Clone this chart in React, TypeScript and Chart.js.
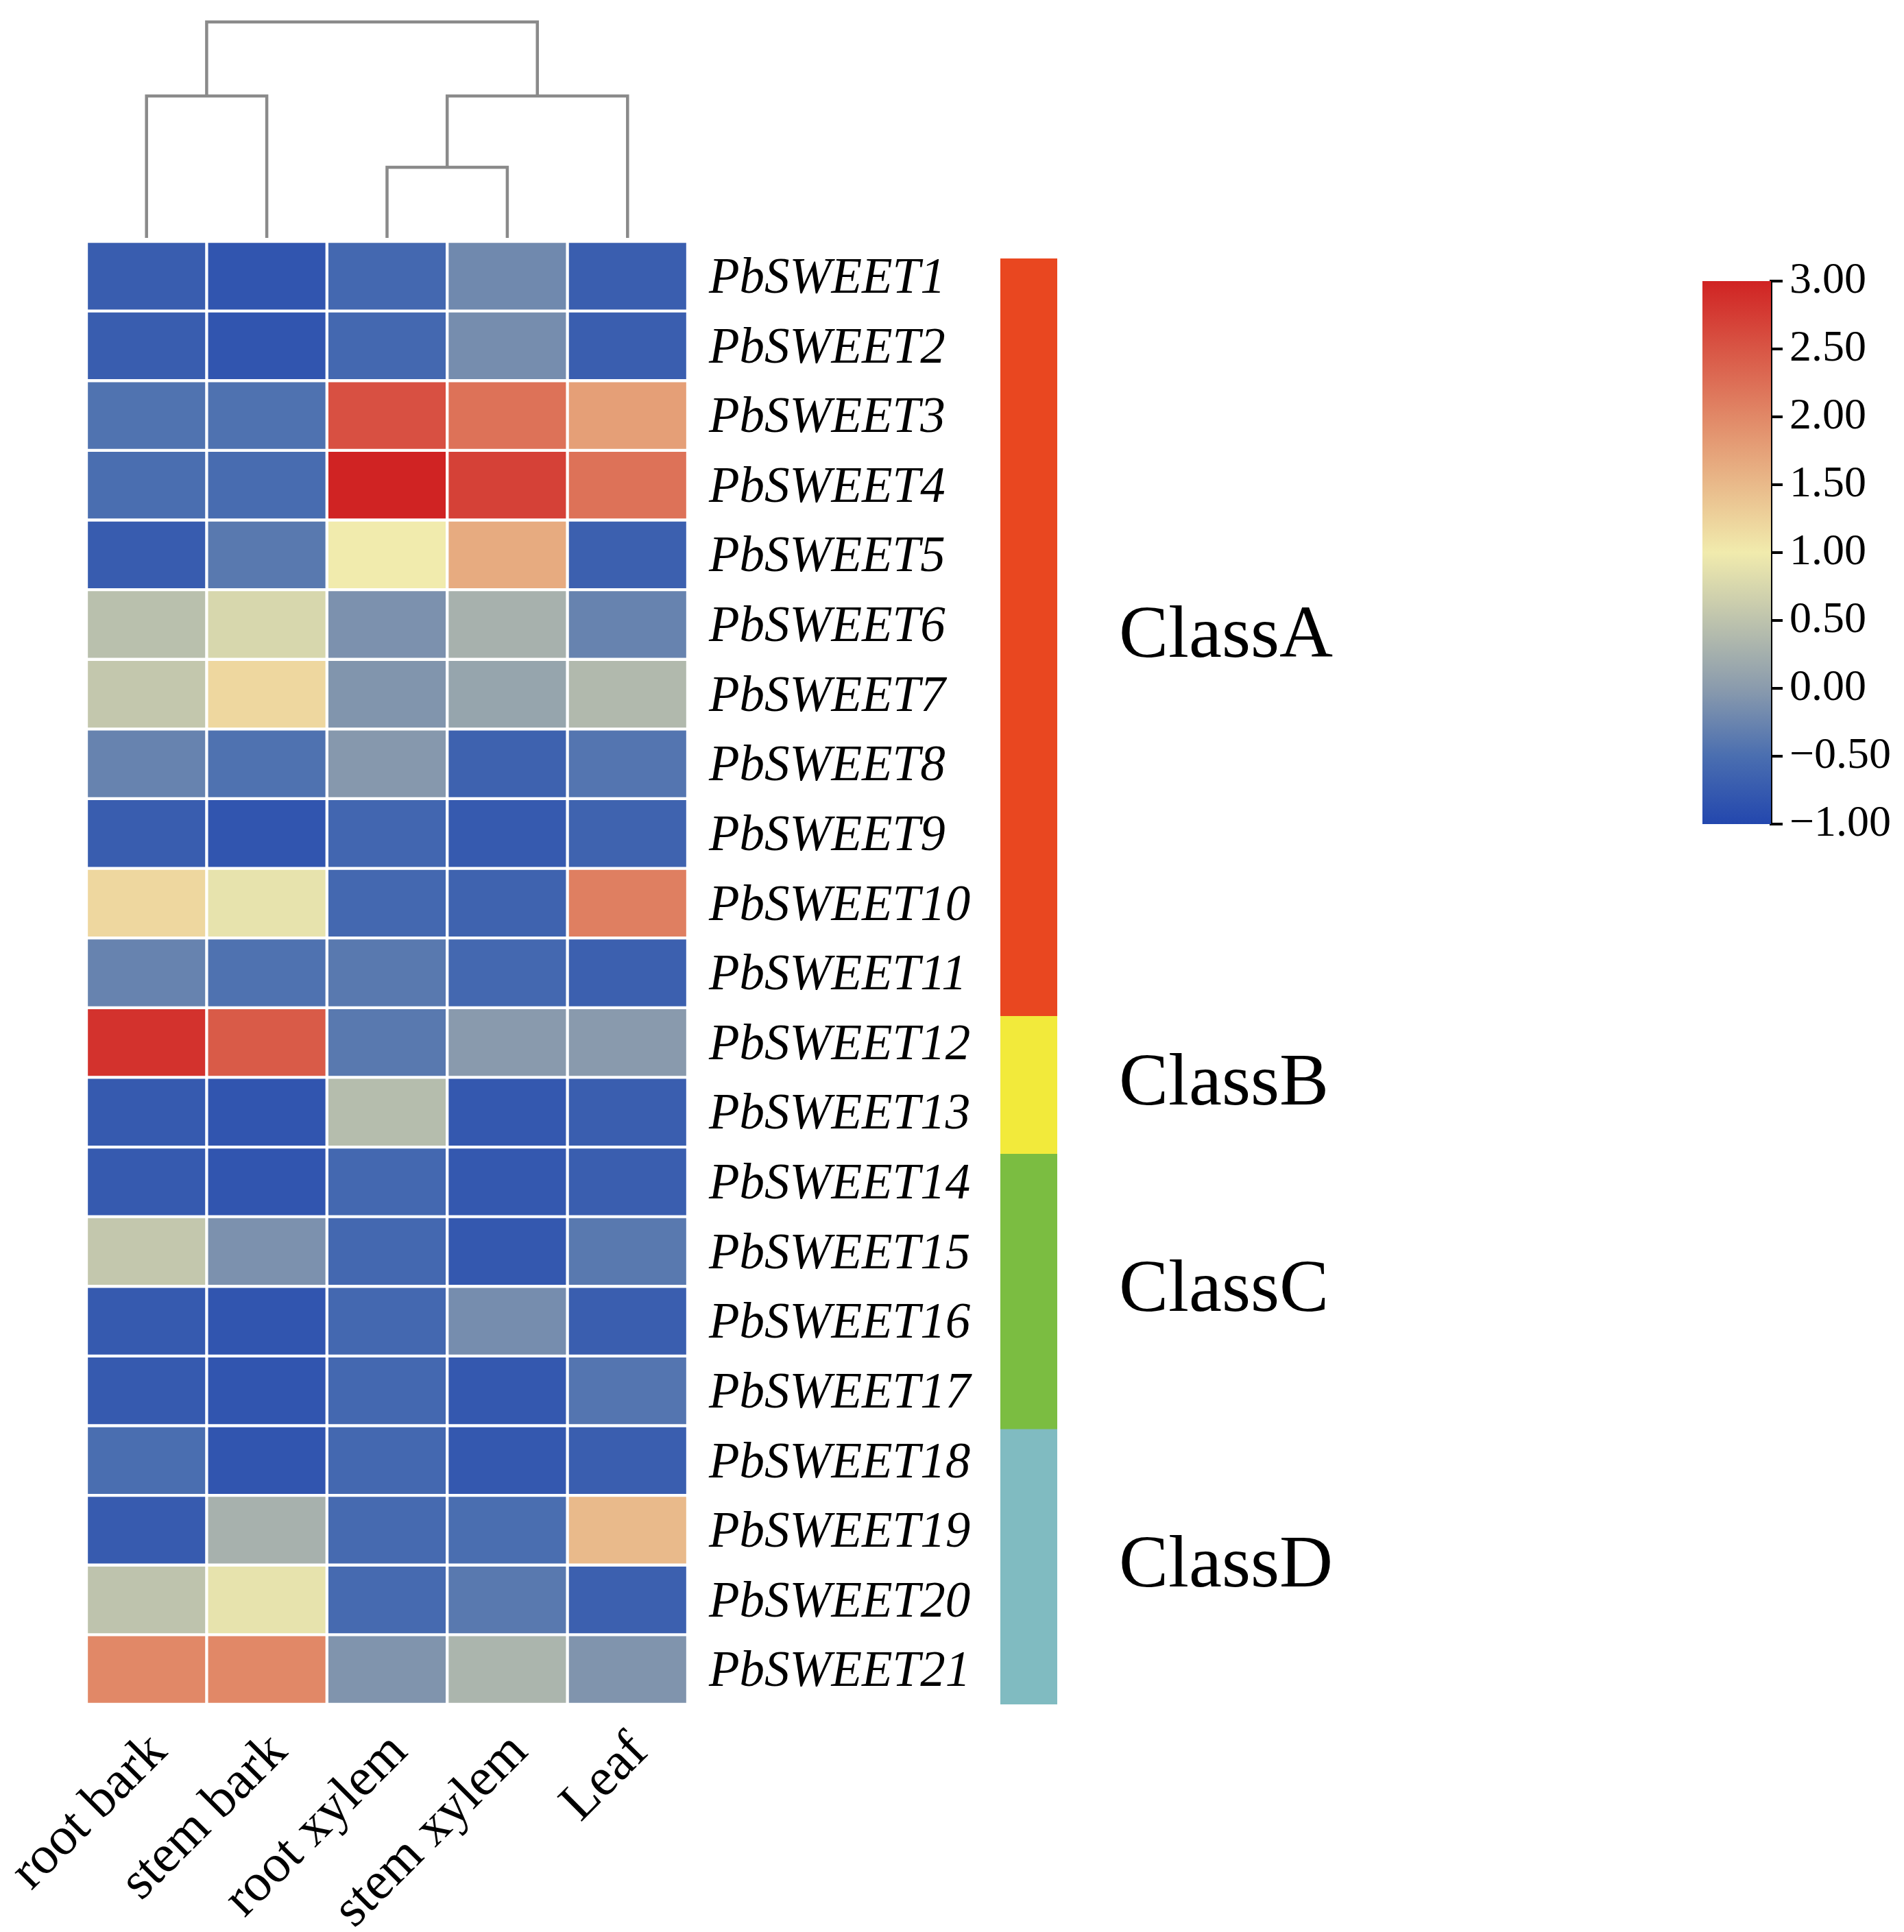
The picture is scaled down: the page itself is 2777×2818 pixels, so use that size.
import React, { useEffect, useRef } from "react";
import { Chart, registerables } from "chart.js";
Chart.register(...registerables);

// ---------------- data ----------------
const genes = [
  "PbSWEET1", "PbSWEET2", "PbSWEET3", "PbSWEET4", "PbSWEET5", "PbSWEET6", "PbSWEET7",
  "PbSWEET8", "PbSWEET9", "PbSWEET10", "PbSWEET11", "PbSWEET12", "PbSWEET13", "PbSWEET14",
  "PbSWEET15", "PbSWEET16", "PbSWEET17", "PbSWEET18", "PbSWEET19", "PbSWEET20", "PbSWEET21",
];
const tissues = ["root bark", "stem bark", "root xylem", "stem xylem", "Leaf"];

const rootBark = [-0.72, -0.72, -0.45, -0.5, -0.73, 0.46, 0.55, -0.27, -0.72, 1.2, -0.27, 2.85, -0.76, -0.76, 0.55, -0.76, -0.76, -0.5, -0.74, 0.5, 2.0];
const stemBark = [-0.82, -0.82, -0.46, -0.53, -0.38, 0.75, 1.2, -0.46, -0.82, 0.9, -0.46, 2.45, -0.82, -0.82, -0.11, -0.82, -0.82, -0.82, 0.28, 0.9, 2.0];
const rootXylem = [-0.58, -0.58, 2.55, 3.0, 1.0, -0.11, -0.07, -0.03, -0.6, -0.58, -0.38, -0.38, 0.42, -0.58, -0.58, -0.58, -0.58, -0.58, -0.55, -0.55, -0.08];
const stemXylem = [-0.2, -0.16, 2.22, 2.7, 1.65, 0.28, 0.12, -0.66, -0.76, -0.64, -0.58, -0.01, -0.78, -0.78, -0.78, -0.16, -0.78, -0.78, -0.5, -0.38, 0.32];
const leaf = [-0.7, -0.7, 1.77, 2.22, -0.68, -0.27, 0.38, -0.42, -0.64, 2.09, -0.68, -0.01, -0.7, -0.7, -0.38, -0.7, -0.42, -0.7, 1.49, -0.68, -0.08];
const series = [rootBark, stemBark, rootXylem, stemXylem, leaf];

// column dendrogram: each link joins a left child and a right child at height h
const dendroLeftX = [0, 2, 2.5, 0.5];
const dendroRightX = [1, 3, 4, 3.25];
const dendroLeftH = [0, 0, 0.327, 0.657];
const dendroRightH = [0, 0, 0, 0.657];
const dendroH = [0.657, 0.327, 0.657, 1.0];

const classNames = ["ClassA", "ClassB", "ClassC", "ClassD"];
const classCounts = [11, 2, 4, 4];
const classColors = ["#E94720", "#F2EA3B", "#7BBD41", "#80BBC1"];

const cmapValues = [-1, -0.5, 0, 1, 2, 3];
const cmapColors = ["#2347AE", "#4A6EB0", "#8A9BAD", "#F1EBAD", "#E18867", "#D02323"];
const colorMin = -1;
const colorMax = 3;
const colorStep = 0.5;

// ---------------- helpers ----------------
const SERIF = '"Liberation Serif", "Times New Roman", serif';

function hexToRgb(h: string) {
  const n = parseInt(h.slice(1), 16);
  return [(n >> 16) & 255, (n >> 8) & 255, n & 255];
}
function colorFor(v: number) {
  const vs = cmapValues;
  let i = 0;
  while (i < vs.length - 2 && v > vs[i + 1]) i++;
  let t = (v - vs[i]) / (vs[i + 1] - vs[i]);
  t = Math.max(0, Math.min(1, t));
  const a = hexToRgb(cmapColors[i]);
  const b = hexToRgb(cmapColors[i + 1]);
  const c = a.map((x, k) => Math.round(x + (b[k] - x) * t));
  return `rgb(${c[0]},${c[1]},${c[2]})`;
}

const classLabelPlugin = {
  id: "classLabels",
  afterDatasetsDraw(chart: any) {
    const ctx = chart.ctx;
    ctx.save();
    ctx.font = `108px ${SERIF}`;
    ctx.fillStyle = "#000";
    ctx.textAlign = "left";
    ctx.textBaseline = "middle";
    chart.data.datasets.forEach((ds: any, i: number) => {
      const el = chart.getDatasetMeta(i).data[0];
      if (!el) return;
      const p = el.getProps(["x", "y", "base", "width"], true);
      ctx.fillText(classNames[i], p.x + p.width / 2 + 90, (p.y + p.base) / 2);
    });
    ctx.restore();
  },
};

export default function App() {
  const dendroRef = useRef<HTMLCanvasElement>(null);
  const heatRef = useRef<HTMLCanvasElement>(null);
  const classRef = useRef<HTMLCanvasElement>(null);
  const cbarRef = useRef<HTMLCanvasElement>(null);

  useEffect(() => {
    const charts: Chart[] = [];

    // Dendrogram
    charts.push(
      new Chart(dendroRef.current!, {
        type: "scatter",
        data: {
          datasets: dendroH.map((h, i) => ({
            data: [
              { x: dendroLeftX[i], y: dendroLeftH[i] },
              { x: dendroLeftX[i], y: h },
              { x: dendroRightX[i], y: h },
              { x: dendroRightX[i], y: dendroRightH[i] },
            ],
            showLine: true,
            borderColor: "#8A8A8A",
            borderWidth: 4.5,
            pointRadius: 0,
            tension: 0,
            clip: false,
          })) as any,
        },
        options: {
          responsive: false,
          animation: false,
          devicePixelRatio: 1,
          layout: { padding: { left: 126, right: 97, top: 32, bottom: 13 } },
          plugins: { legend: { display: false }, tooltip: { enabled: false } },
          scales: {
            x: { type: "linear", min: -0.5, max: 4.5, display: false },
            y: { type: "linear", min: 0, max: 1, display: false },
          },
        },
      })
    );

    // Heatmap
    charts.push(
      new Chart(heatRef.current!, {
        type: "bar",
        data: {
          labels: genes,
          datasets: tissues.map((t, c) => ({
            label: t,
            data: genes.map(() => [c - 0.5, c + 0.5]),
            backgroundColor: series[c].map(colorFor),
            borderColor: "#ffffff",
            borderWidth: 2.5,
            borderSkipped: false,
            grouped: false,
            barPercentage: 1,
            categoryPercentage: 1,
          })) as any,
        },
        options: {
          indexAxis: "y",
          responsive: false,
          animation: false,
          devicePixelRatio: 1,
          layout: { padding: { left: 126, top: 352, right: 0, bottom: 0 } },
          plugins: { legend: { display: false }, tooltip: { enabled: false } },
          scales: {
            x: {
              type: "linear",
              position: "bottom",
              min: -0.5,
              max: 4.5,
              grid: { display: false },
              border: { display: false },
              afterBuildTicks: (s: any) => {
                s.ticks = tissues.map((_, i) => ({ value: i }));
              },
              ticks: {
                callback: (v: any) => tissues[Math.round(Number(v))],
                minRotation: 45,
                maxRotation: 45,
                autoSkip: false,
                padding: 16,
                labelOffset: 18,
                color: "#000",
                font: { family: SERIF, size: 78 },
              },
              afterFit: (s: any) => {
                s.height = 332;
                s.paddingLeft = 0;
                s.paddingRight = 0;
              },
            },
            y: {
              type: "category",
              position: "right",
              grid: { display: false },
              border: { display: false },
              ticks: {
                padding: 23,
                labelOffset: 5,
                autoSkip: false,
                color: "#000",
                font: { family: SERIF, size: 73, style: "italic" },
              },
              afterFit: (s: any) => {
                s.width = 437;
                s.paddingTop = 0;
                s.paddingBottom = 0;
              },
            },
          },
        },
      })
    );

    // Class bar
    charts.push(
      new Chart(classRef.current!, {
        type: "bar",
        data: {
          labels: ["class"],
          datasets: classCounts.map((n, i) => ({
            label: classNames[i],
            data: [n],
            backgroundColor: classColors[i],
            borderWidth: 0,
            barPercentage: 1,
            categoryPercentage: 1,
            stack: "s",
          })),
        },
        options: {
          responsive: false,
          animation: false,
          devicePixelRatio: 1,
          layout: { padding: { left: 19, right: 1098, top: 377, bottom: 332 } },
          plugins: { legend: { display: false }, tooltip: { enabled: false } },
          scales: {
            x: { type: "category", stacked: true, display: false },
            y: {
              type: "linear",
              stacked: true,
              reverse: true,
              min: 0,
              max: classCounts.reduce((a, b) => a + b, 0),
              display: false,
            },
          },
        },
        plugins: [classLabelPlugin],
      })
    );

    // Colour bar
    charts.push(
      new Chart(cbarRef.current!, {
        type: "bar",
        data: {
          labels: ["scale"],
          datasets: [
            {
              data: [[colorMin, colorMax]] as any,
              backgroundColor: (ctx: any) => {
                const chart = ctx.chart;
                const ys = chart.scales?.y;
                if (!chart.chartArea || !ys) return cmapColors[0];
                const y0 = ys.getPixelForValue(colorMin);
                const y1 = ys.getPixelForValue(colorMax);
                const g = chart.ctx.createLinearGradient(0, y0, 0, y1);
                cmapValues.forEach((v, i) =>
                  g.addColorStop((v - colorMin) / (colorMax - colorMin), cmapColors[i])
                );
                return g;
              },
              borderWidth: 0,
              borderSkipped: false,
              barPercentage: 1,
              categoryPercentage: 1,
            },
          ],
        },
        options: {
          responsive: false,
          animation: false,
          devicePixelRatio: 1,
          layout: { padding: { left: 83, right: 0, top: 40, bottom: 48 } },
          plugins: { legend: { display: false }, tooltip: { enabled: false } },
          scales: {
            x: { type: "category", display: false },
            y: {
              type: "linear",
              position: "right",
              min: colorMin,
              max: colorMax,
              grid: {
                display: true,
                drawOnChartArea: false,
                drawTicks: true,
                tickLength: 17,
                color: "#000",
                lineWidth: 4,
              },
              border: { display: true, color: "#000", width: 4 },
              ticks: {
                stepSize: colorStep,
                padding: 10,
                color: "#000",
                font: { family: SERIF, size: 64 },
                callback: (v: any) => Number(v).toFixed(2).replace("-", "\u2212"),
              },
              afterFit: (s: any) => {
                s.width = 194;
                s.paddingTop = 0;
                s.paddingBottom = 0;
              },
            },
          },
        },
      })
    );

    return () => charts.forEach((c) => c.destroy());
  }, []);

  const abs = (left: number, top: number): React.CSSProperties => ({
    position: "absolute",
    left,
    top,
  });

  return (
    <div
      style={{
        position: "absolute",
        left: 0,
        top: 0,
        width: 2777,
        height: 2818,
        background: "#fff",
        overflow: "hidden",
      }}
    >
      <canvas ref={heatRef} width={1440} height={2818} style={abs(0, 0)} />
      <canvas ref={dendroRef} width={1100} height={360} style={abs(0, 0)} />
      <canvas ref={classRef} width={1200} height={2818} style={abs(1440, 0)} />
      <canvas ref={cbarRef} width={377} height={880} style={abs(2400, 370)} />
    </div>
  );
}
